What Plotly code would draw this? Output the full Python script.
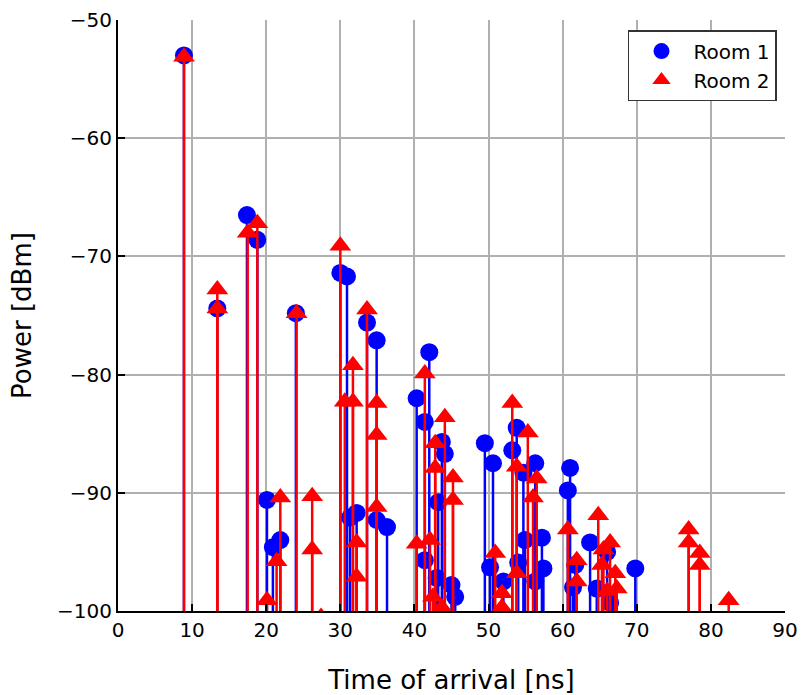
import plotly.graph_objects as go

# Room 1 (blue circles): time of arrival [ns], power [dBm]
room1_t = [8.9, 13.4, 17.4, 18.8, 20.1, 20.9, 21.9, 24.0, 30.0, 30.9, 31.3, 32.2,
           33.6, 34.9, 34.9, 36.3, 40.3, 41.4, 41.4, 42.0, 43.0, 43.2, 43.7, 44.1,
           45.0, 45.5, 49.5, 50.2, 50.6, 52.0, 53.2, 53.8, 54.0, 54.7, 54.9, 56.3,
           56.3, 57.2, 57.4, 60.7, 61.0, 61.4, 61.7, 63.7, 64.6, 66.0, 66.4, 69.8]
room1_p = [-53.0, -74.4, -66.5, -68.6, -90.6, -94.6, -94.0, -74.8, -71.4, -71.7, -92.1, -91.7,
           -75.6, -77.1, -92.3, -92.9, -82.0, -84.0, -95.7, -78.1, -97.2, -90.8, -85.7, -86.7,
           -97.8, -98.8, -85.8, -96.3, -87.5, -97.5, -86.4, -84.5, -95.9, -88.3, -94.0, -87.5,
           -97.5, -93.8, -96.4, -89.8, -87.9, -98.0, -96.1, -94.2, -98.1, -95.0, -99.3, -96.4]

# Room 2 (red triangles)
room2_t = [8.9, 13.4, 13.4, 17.5, 18.8, 20.1, 21.4, 21.9, 24.1, 26.2, 26.2, 27.4,
           30.0, 30.6, 31.7, 31.7, 32.2, 32.2, 33.6, 34.9, 34.9, 34.9, 40.3, 41.4,
           42.1, 42.5, 42.8, 42.8, 43.7, 44.1, 45.2, 45.2, 50.9, 51.8, 51.8, 53.2,
           53.8, 53.8, 55.3, 56.0, 56.5, 60.7, 61.9, 61.9, 64.8, 65.3, 65.5, 66.0,
           66.4, 67.1, 67.3, 77.0, 77.0, 78.5, 78.5, 82.4]
room2_p = [-53.1, -72.8, -74.4, -68.0, -67.2, -99.1, -95.8, -90.4, -74.8, -90.3, -94.8, -100.5,
           -69.1, -82.3, -79.2, -82.3, -94.2, -97.1, -74.5, -82.4, -85.1, -91.2, -94.3, -79.9,
           -94.0, -98.8, -85.8, -87.9, -99.7, -83.6, -88.7, -90.6, -95.1, -98.5, -99.7, -82.4,
           -87.8, -96.8, -84.9, -90.4, -88.8, -93.1, -95.7, -97.5, -91.9, -96.1, -94.8, -98.3,
           -94.2, -96.8, -98.1, -93.1, -94.2, -95.1, -96.1, -99.1]

x_ticks = [0, 10, 20, 30, 40, 50, 60, 70, 80, 90]
y_ticks = [-100, -90, -80, -70, -60, -50]
y_tick_text = ["\u2212100", "\u221290", "\u221280", "\u221270", "\u221260", "\u221250"]
BASE = -100

def stems(ts, ps):
    xs, ys = [], []
    for t, p in zip(ts, ps):
        xs += [t, t, None]
        ys += [BASE, p, None]
    return xs, ys

BLUE = "#0000ff"
RED = "#ff0000"

fig = go.Figure()
sx, sy = stems(room1_t, room1_p)
fig.add_trace(go.Scatter(x=sx, y=sy, mode="lines", line=dict(color=BLUE, width=2.5),
                         showlegend=False, hoverinfo="skip"))
fig.add_trace(go.Scatter(x=room1_t, y=room1_p, mode="markers", name="Room 1",
                         marker=dict(symbol="circle", size=18, color=BLUE, line=dict(width=0))))
sx, sy = stems(room2_t, room2_p)
fig.add_trace(go.Scatter(x=sx, y=sy, mode="lines", line=dict(color=RED, width=2.5),
                         showlegend=False, hoverinfo="skip"))
fig.add_trace(go.Scatter(x=room2_t, y=room2_p, mode="markers", name="Room 2",
                         marker=dict(symbol="triangle-up", size=19, color=RED, line=dict(width=0))))

fig.update_layout(
    width=801, height=695,
    margin=dict(l=118, r=16, t=20, b=84, autoexpand=False),
    paper_bgcolor="white", plot_bgcolor="white",
    font=dict(family="DejaVu Sans", size=20, color="black"),
    showlegend=True,
    legend=dict(x=0.988, y=0.983, xanchor="right", yanchor="top",
                bgcolor="white", bordercolor="#333333", borderwidth=1.5,
                font=dict(size=20), itemwidth=54, tracegroupgap=4),
)
fig.update_xaxes(
    range=[0, 90], tickvals=x_ticks, ticktext=[str(v) for v in x_ticks],
    automargin=False,
    showgrid=True, gridcolor="#b0b0b0", gridwidth=1.5, zeroline=False,
    showline=True, linecolor="black", linewidth=2,
    ticks="inside", ticklen=7, tickwidth=1.5, tickcolor="black",
    tickfont=dict(size=20),
    title=dict(text="Time of arrival [ns]", font=dict(size=26), standoff=40),
)
fig.update_yaxes(
    range=[-100, -50], tickvals=y_ticks, ticktext=y_tick_text,
    automargin=False,
    showgrid=True, gridcolor="#b0b0b0", gridwidth=1.5, zeroline=False,
    showline=True, linecolor="black", linewidth=2,
    ticks="inside", ticklen=7, tickwidth=1.5, tickcolor="black",
    tickfont=dict(size=20),
    title=dict(text="Power [dBm]", font=dict(size=26), standoff=18),
)

fig.write_html("out.html")
